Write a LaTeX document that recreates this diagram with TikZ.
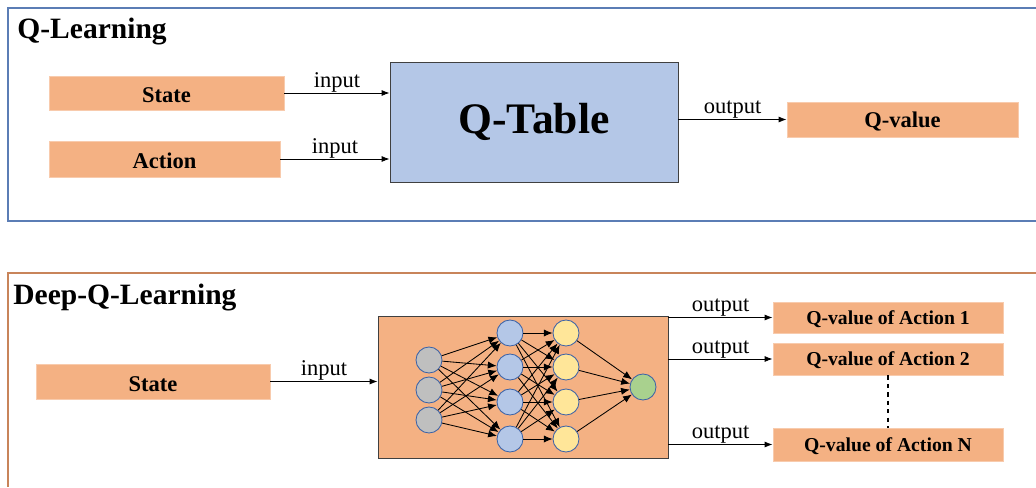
\documentclass[tikz,border=0pt]{standalone}
\usepackage{fontspec}
\setmainfont{Liberation Serif}
\usetikzlibrary{positioning,calc,arrows.meta}

\definecolor{boxorange}{HTML}{F4B183}
\definecolor{boxedge}{HTML}{F8CBAD}
\definecolor{tableblue}{HTML}{B4C7E7}
\definecolor{frameblue}{HTML}{5B7DB5}
\definecolor{framebrown}{HTML}{C8845A}
\definecolor{neuronedge}{HTML}{3A62A8}
\definecolor{ingray}{HTML}{BFBFBF}
\definecolor{hidyellow}{HTML}{FFE699}
\definecolor{outgreen}{HTML}{A9D18E}

\tikzset{
  valbox/.style={fill=boxorange, draw=boxedge, inner sep=0pt, text height=14pt, font=\fontsize{16}{18}\selectfont\bfseries},
  qbox/.style={valbox, minimum width=5.75cm, text height=12pt, font=\fontsize{14}{16}\selectfont\bfseries},
  neuron/.style={circle, draw=neuronedge, minimum size=0.65cm, inner sep=0pt},
  lbl/.style={midway, above, inner sep=0.5pt, font=\fontsize{16}{18}\selectfont},
  title/.style={anchor=west, inner sep=0pt, font=\fontsize{21}{24}\selectfont\bfseries},
}

\begin{document}
\begin{tikzpicture}[>={Latex[length=2mm,width=1.5mm]}, line width=0.6pt]
    \useasboundingbox (0,0) rectangle (25.9,-12.175);

    % Q-Learning
    \draw [frameblue, line width=0.9pt] (25.9,-0.2) -- (0.2,-0.2) -- (0.2,-5.525) -- (25.9,-5.525);
    \node [title] (qltitle) at (0.425,-0.78) {Q-Learning};

    \node [valbox, minimum width=5.875cm, minimum height=0.85cm] (state) at (4.1625,-2.325) {State};
    \node [valbox, minimum width=5.775cm, minimum height=0.9cm] (action) at (4.1125,-3.975) {Action};
    \node [draw=black!75, fill=tableblue, minimum width=7.2cm, minimum height=3cm,
           font=\fontsize{31}{34}\selectfont\bfseries] (qtable) at (13.35,-3.05) {Q-Table};
    \node [valbox, minimum width=5.775cm, minimum height=0.875cm] (qvalue) at (22.5625,-2.9875) {Q-value};

    \draw [->] (state.east) -- node[lbl] {input} (state.east -| qtable.west);
    \draw [->] (action.east) -- node[lbl] {input} (action.east -| qtable.west);
    \draw [->] (qvalue.west -| qtable.east) -- node[lbl] {output} (qvalue.west);

    % Deep-Q-Learning
    \draw [framebrown, line width=0.9pt] (25.9,-6.825) -- (0.2,-6.825) -- (0.2,-12.175);
    \node [title] (dqltitle) at (0.325,-7.43) {Deep-Q-Learning};

    \node [valbox, minimum width=5.85cm, minimum height=0.875cm] (state2) at (3.825,-9.5375) {State};
    \node [draw=black!75, fill=boxorange, minimum width=7.25cm, minimum height=3.55cm] (net) at (13.075,-9.675) {};

    \node [qbox, minimum height=0.775cm] (qa1) at (22.2,-7.9375) {Q-value of Action 1};
    \node [qbox, minimum height=0.8cm] (qa2) at (22.2,-8.975) {Q-value of Action 2};
    \node [qbox, minimum height=0.825cm] (qaN) at (22.2,-11.1125) {Q-value of Action N};

    \draw [->] (state2.east) -- node[lbl] {input} (state2.east -| net.west);
    \draw [->] (qa1.west -| net.east) -- node[lbl] {output} (qa1.west);
    \draw [->] (qa2.west -| net.east) -- node[lbl] {output} (qa2.west);
    \draw [->] (qaN.west -| net.east) -- node[lbl] {output} (qaN.west);
    \draw [dashed, line width=0.8pt] (qa2.south) -- (qaN.north);

    % network inside the box
    \foreach \y [count=\i] in {-9.0,-9.75,-10.5}
        \node [neuron, fill=ingray] (in\i) at (10.725,\y) {};
    \foreach \y [count=\i] in {-8.325,-9.175,-10.05,-10.975} {
        \node [neuron, fill=tableblue] (ha\i) at (12.75,\y) {};
        \node [neuron, fill=hidyellow] (hb\i) at (14.15,\y) {};
    }
    \node [neuron, fill=outgreen] (out) at (16.075,-9.675) {};

    \foreach \i in {1,2,3}
        \foreach \j in {1,...,4}
            \draw [-{Latex[length=2.2mm,width=1.8mm]}] (in\i) -- (ha\j);
    \foreach \i in {1,...,4} {
        \foreach \j in {1,...,4}
            \draw [-{Latex[length=2.2mm,width=1.8mm]}] (ha\i) -- (hb\j);
        \draw [-{Latex[length=2.2mm,width=1.8mm]}] (hb\i) -- (out);
    }
\end{tikzpicture}
\end{document}
